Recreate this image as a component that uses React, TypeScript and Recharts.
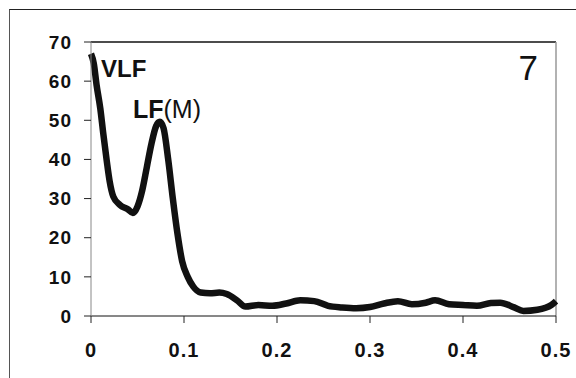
import { LineChart, Line, XAxis, YAxis, ReferenceLine } from "recharts";

// frequency (Hz) of each sample of the spectrum
const freqs = [
  0, 0.003, 0.006, 0.01, 0.013, 0.017, 0.02, 0.024, 0.031, 0.04, 0.045, 0.05,
  0.055, 0.06, 0.065, 0.07, 0.074, 0.078, 0.083, 0.088, 0.093, 0.098, 0.104,
  0.11, 0.118, 0.128, 0.138, 0.146, 0.157, 0.166, 0.18, 0.195, 0.21, 0.225,
  0.24, 0.255, 0.27, 0.285, 0.3, 0.315, 0.33, 0.345, 0.36, 0.37, 0.385, 0.4,
  0.415, 0.43, 0.44, 0.455, 0.465, 0.48, 0.495, 0.5,
];

// spectral power at each frequency
const power = [
  67, 64.5, 59, 53, 47, 39.5, 34.5, 30.5, 28.4, 27.2, 26.3, 28,
  32, 38, 44, 48.5, 49.6, 48, 40, 30, 21, 14, 10,
  7.5, 6, 5.8, 6, 5.6, 4, 2.4, 2.8, 2.6, 3.2, 4,
  3.8, 2.6, 2.2, 2, 2.3, 3.2, 3.8, 3, 3.4, 4, 3, 2.8,
  2.6, 3.3, 3.4, 2.2, 1.3, 1.6, 2.8, 3.8,
];

const xTicks = [0, 0.1, 0.2, 0.3, 0.4, 0.5];
const yTicks = [0, 10, 20, 30, 40, 50, 60, 70];

const data = freqs.map((f, i) => ({ f, p: power[i] }));

const font = "Arial, 'Liberation Sans', sans-serif";

const tickFont = {
  fontFamily: font,
  fontWeight: 700,
  fontSize: 19,
  letterSpacing: 1,
  fill: "#111",
};

export default function App() {
  return (
    <div style={{ position: "absolute", left: 0, top: 0, width: 576, height: 378, background: "#fff" }}>
      <div
        style={{
          position: "absolute",
          left: 9,
          top: 9,
          right: 0,
          bottom: 0,
          borderTop: "1px solid #222",
          borderLeft: "1px solid #555",
        }}
      />
      <LineChart
        width={576}
        height={378}
        data={data}
        margin={{ top: 42, right: 20, bottom: 32, left: 0 }}
        style={{ position: "absolute", left: 0, top: 0 }}
      >
        <XAxis
          dataKey="f"
          type="number"
          domain={[0, 0.5]}
          ticks={xTicks}
          height={30}
          tickSize={7}
          tickMargin={20}
          stroke="#111"
          tick={{ ...tickFont, fontSize: 20 }}
          tickLine={{ stroke: "#222" }}
        />
        <YAxis
          type="number"
          domain={[0, 70]}
          ticks={yTicks}
          width={91}
          tickSize={7}
          tickMargin={12}
          stroke="#888"
          tick={tickFont}
          tickLine={{ stroke: "#222" }}
        />
        <ReferenceLine y={70} stroke="#111" strokeWidth={1.5} />
        <ReferenceLine x={0.5} stroke="#999" strokeWidth={1.5} />
        <Line
          type="monotone"
          dataKey="p"
          stroke="#111"
          strokeWidth={6.5}
          dot={false}
          isAnimationActive={false}
        />
        <text x={101} y={77} style={{ fontFamily: font, fontWeight: 700, fontSize: 24 }} fill="#111">
          VLF
        </text>
        <text x={133} y={118} style={{ fontFamily: font, fontSize: 25 }} fill="#111">
          <tspan fontWeight={700}>LF</tspan>
          <tspan>(M)</tspan>
        </text>
        <text x={538} y={80} textAnchor="end" style={{ fontFamily: font, fontSize: 35 }} fill="#111">
          7
        </text>
      </LineChart>
    </div>
  );
}
